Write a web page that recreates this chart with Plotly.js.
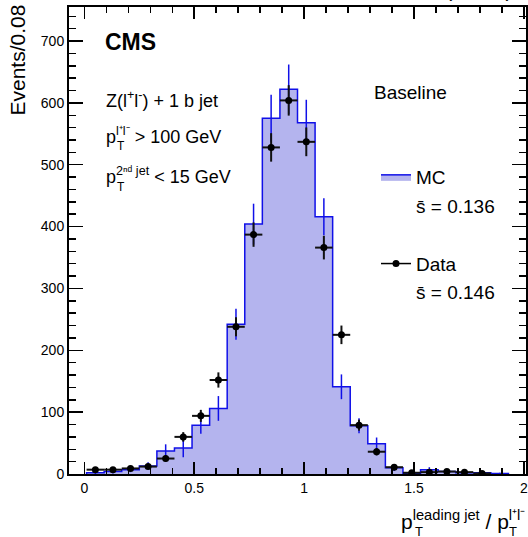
<!DOCTYPE html>
<html><head><meta charset="utf-8">
<script src="https://cdn.plot.ly/plotly-3.0.1.min.js"></script>
<style>body{margin:0;padding:0;background:#fff}#chart{width:528px;height:537px}</style>
</head><body><div id="chart"></div>
<script>
// bin centres (bin width 0.08)
const binCenters = [0.05,0.13,0.21,0.29,0.37,0.45,0.53,0.61,0.69,0.77,0.85,0.93,1.01,1.09,1.17,1.25,1.33,1.41,1.49,1.57,1.65,1.73,1.81,1.89];
const binWidth = 0.08;
const mcValues   = [2,4,7,13,37,42,79,106,242,404,575,622,568,416,141,78,49,10,1,7,4,2,2,1];
const mcErrors   = [2,3,4,6,11,15,14,20,25,33,38,40,37,30,20,12,10,5,1,4,3,2,2,1];
const dataValues = [7,7,9,12,25,60,94,152,238,387,528,604,537,366,225,79,36,11,2,3,4,3,1,null];
const dataErrors = [2.6,2.6,3,3.5,5,7.7,9.7,12.3,15.4,19.7,23,24.6,23.2,19.1,15,8.9,6,3.3,1.4,1.7,2,1.7,1,null];
const xTickVals = [0,0.5,1,1.5,2];
const yTickVals = [0,100,200,300,400,500,600,700];

// step outline built from bin edges
const edges = binCenters.map(c => c - binWidth/2);
const stepX = [edges[0]].concat(edges, [edges[edges.length-1] + binWidth, edges[edges.length-1] + binWidth]);
const stepY = [0].concat(mcValues, [mcValues[mcValues.length-1], 0]);

const FONT = 'Liberation Sans, Arial, Helvetica, sans-serif';
const L = 69, R = 526, T = 7, B = 474;
const px = p => (p - L) / (R - L);
const py = p => (B - p) / (B - T);

const traces = [
  {x: stepX, y: stepY, type: 'scatter', mode: 'lines', name: 'MC', legendgroup: 'mc',
   line: {color: '#1010e8', width: 1.5, shape: 'hv'}, fill: 'tozeroy', fillcolor: '#b4b4ee', hoverinfo: 'skip'},
  {x: binCenters, y: mcValues, type: 'scatter', mode: 'markers', showlegend: false, legendgroup: 'mc',
   marker: {size: 1, color: 'rgba(0,0,0,0)'},
   error_y: {type: 'data', array: mcErrors, visible: true, color: '#1010e8', thickness: 1.5, width: 0}},
  {x: binCenters, y: dataValues, type: 'scatter', mode: 'markers', showlegend: false, legendgroup: 'data',
   marker: {size: 7, color: '#000'},
   error_y: {type: 'data', array: dataErrors, visible: true, color: '#111', thickness: 2, width: 0},
   error_x: {type: 'constant', value: binWidth/2, visible: true, color: '#111', thickness: 2, width: 0}},
  {x: [null], y: [null], type: 'scatter', mode: 'lines+markers', name: 'Data', legendgroup: 'data',
   line: {color: '#000', width: 1.5}, marker: {size: 7, color: '#000'}}
];

function ann(text, x, y, size, opts) {
  return Object.assign({text: text, xref: 'paper', yref: 'paper', x: px(x), y: py(y),
    xanchor: 'left', yanchor: 'middle', showarrow: false,
    font: {family: FONT, size: size, color: '#000'}}, opts || {});
}

const annotations = [
  ann('<b>CMS</b>', 103, 42, 23),
  ann('Z(l<sup>+</sup>l<sup>-</sup>) + 1 b jet', 104, 99, 18),
  ann('p<sup>l⁺l⁻</sup> > 100 GeV', 104, 135, 18),
  ann('T', 115, 146, 12),
  ann('p<sup>2ⁿᵈ jet</sup> < 15 GeV', 104, 176, 18),
  ann('T', 115, 187, 12),
  ann('Baseline', 372, 93, 19),
  ann('s̄ = 0.136', 414, 206, 19),
  ann('s̄ = 0.146', 414, 292, 19),
  ann('p<sup>leading jet</sup> / p<sup>l⁺l⁻</sup>', 527, 520, 21, {xanchor: 'right'}),
  ann('T', 413, 531, 13),
  ann('T', 507, 531, 13),
  ann('Events/0.08', 17, 3, 21, {xanchor: 'center', yanchor: 'top', textangle: -90}),
  ann('19.7 fb<sup>-1</sup> (8 TeV)', 514, 3, 21, {xanchor: 'right', yanchor: 'bottom'})
];

const axisCommon = {
  ticks: 'inside', tickcolor: '#000', tickwidth: 1.5, mirror: 'allticks',
  showline: true, linecolor: '#000', linewidth: 2, showgrid: false, zeroline: false,
  tickfont: {family: FONT, size: 14, color: '#000'}
};

const layout = {
  width: 528, height: 537,
  margin: {l: L, r: 528 - R, t: T, b: 537 - B, pad: 0},
  paper_bgcolor: '#fff', plot_bgcolor: '#fff',
  font: {family: FONT, color: '#000'},
  xaxis: Object.assign({}, axisCommon, {range: [-0.07, 2.01], tickvals: xTickVals, ticklen: 12,
    minor: {dtick: 0.1, tick0: 0, ticks: 'inside', ticklen: 6, tickwidth: 1.5, tickcolor: '#000'}}),
  yaxis: Object.assign({}, axisCommon, {range: [0, 755], tickvals: yTickVals, ticklen: 14,
    minor: {dtick: 20, tick0: 0, ticks: 'inside', ticklen: 7, tickwidth: 1.5, tickcolor: '#000'}}),
  showlegend: true,
  legend: {x: px(376), y: py(158), xanchor: 'left', yanchor: 'top', bgcolor: 'rgba(0,0,0,0)',
    font: {family: FONT, size: 19, color: '#000'}, tracegroupgap: 59, traceorder: 'grouped', itemwidth: 30},
  annotations: annotations
};

Plotly.newPlot('chart', traces, layout, {displayModeBar: false, staticPlot: true});
</script>
</body></html>
